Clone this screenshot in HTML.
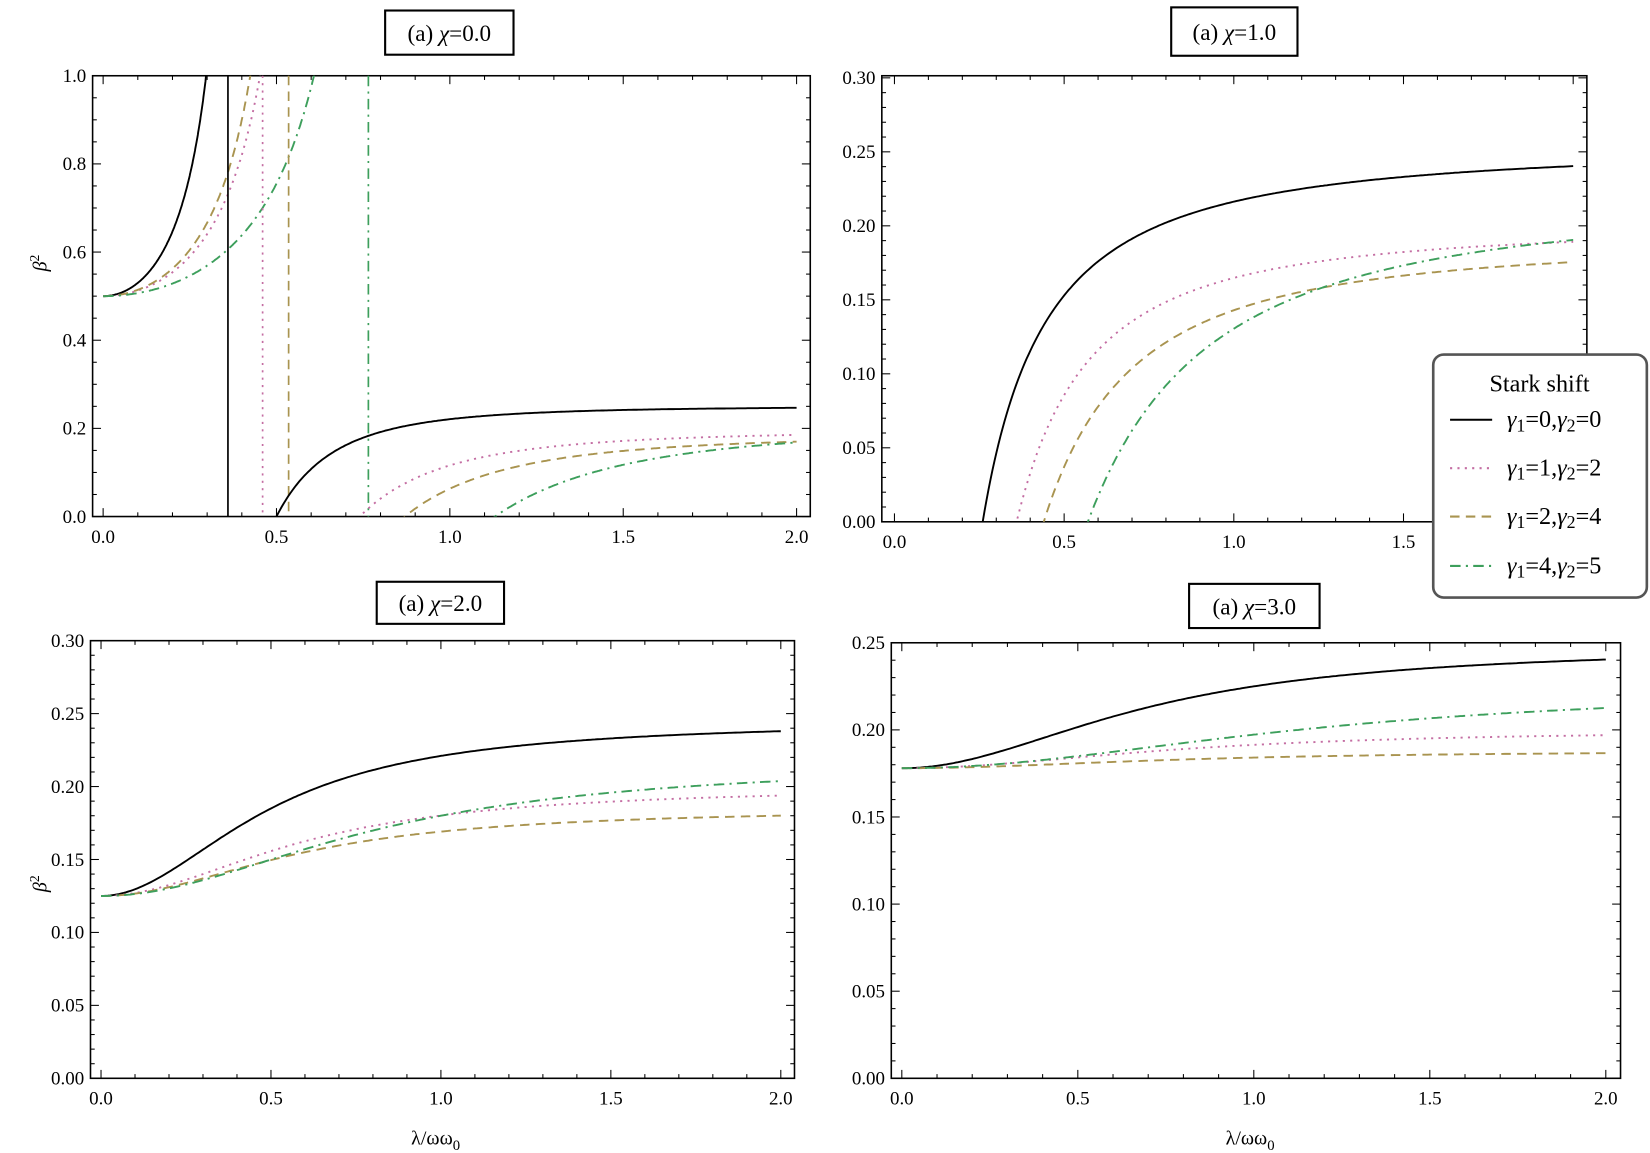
<!DOCTYPE html>
<html><head><meta charset="utf-8"><style>
html,body{margin:0;padding:0;background:#fff;}
svg{display:block;}
text{font-family:"Liberation Serif","DejaVu Serif",serif;}
</style></head><body>
<svg id="s" width="1650" height="1153" viewBox="0 0 1568 1096" preserveAspectRatio="none" xmlns="http://www.w3.org/2000/svg"></svg>
<script>
const S=document.getElementById('s');
let out='';
const C={k:'#000',p:'#c46ea3',o:'#a99450',g:'#3d9f5c'};
const DASH={k:'',p:'2 5',o:'9 6',g:'10 5 2 5'};
const panels=[
 {fx0:88,fx1:770,fy0:72,fy1:491,x0:98,x1:757,yb:491,yt:72,ymax:1,ymaj:0.2,ymin:0.05,dec:1},
 {fx0:838,fx1:1508,fy0:72,fy1:496,x0:850,x1:1495,yb:496,yt:74,ymax:0.3,ymaj:0.05,ymin:0.01,dec:2},
 {fx0:86,fx1:755,fy0:609,fy1:1025,x0:96,x1:742,yb:1025,yt:609,ymax:0.3,ymaj:0.05,ymin:0.01,dec:2},
 {fx0:847,fx1:1540,fy0:611,fy1:1025,x0:857,x1:1526,yb:1025,yt:611,ymax:0.25,ymaj:0.05,ymin:0.01,dec:2}
];
function X(P,x){return P.x0+(P.x1-P.x0)*x/2;}
function Y(P,y){return P.yb-(P.yb-P.yt)*y/P.ymax;}
panels.forEach((P,i)=>{
 out+=`<clipPath id="c${i}"><rect x="${P.fx0}" y="${P.fy0}" width="${P.fx1-P.fx0}" height="${P.fy1-P.fy0}"/></clipPath>`;
 out+=`<rect x="${P.fx0}" y="${P.fy0}" width="${P.fx1-P.fx0}" height="${P.fy1-P.fy0}" fill="none" stroke="#000" stroke-width="1.5"/>`;
 for(let k=0;k<=20;k++){const x=X(P,k/10);const maj=k%5==0;const L=maj?8:4;
  out+=`<line x1="${x}" y1="${P.fy1}" x2="${x}" y2="${P.fy1-L}" stroke="#000" stroke-width="1"/><line x1="${x}" y1="${P.fy0}" x2="${x}" y2="${P.fy0+L}" stroke="#000" stroke-width="1"/>`;
  if(maj) out+=`<text x="${x}" y="${P.fy1+25}" font-size="18" text-anchor="middle">${(k/10).toFixed(1)}</text>`;}
 const n=Math.round(P.ymax/P.ymin);const r=Math.round(P.ymaj/P.ymin);
 for(let k=0;k<=n;k++){const y=Y(P,k*P.ymin);const maj=k%r==0;const L=maj?8:4;
  out+=`<line x1="${P.fx0}" y1="${y}" x2="${P.fx0+L}" y2="${y}" stroke="#000" stroke-width="1"/><line x1="${P.fx1}" y1="${y}" x2="${P.fx1-L}" y2="${y}" stroke="#000" stroke-width="1"/>`;
  if(maj) out+=`<text x="${P.fx0-6}" y="${y+6}" font-size="18" text-anchor="end">${(k*P.ymin).toFixed(P.dec)}</text>`;}
});
function path(P,i,f,a,b,col){let d='';const N=300;for(let j=0;j<=N;j++){const x=a+(b-a)*j/N;let y=f(x);if(!isFinite(y))continue;y=Math.max(-0.2,Math.min(P.ymax*1.5,y));d+=(d?'L':'M')+X(P,x).toFixed(1)+' '+Y(P,y).toFixed(1);}
 out+=`<path d="${d}" fill="none" stroke="${C[col]}" stroke-width="1.8" stroke-dasharray="${DASH[col]}" clip-path="url(#c${i})"/>`;}
function vline(P,i,x,col){out+=`<line x1="${X(P,x)}" y1="${P.fy0}" x2="${X(P,x)}" y2="${P.fy1}" stroke="${C[col]}" stroke-width="1.6" stroke-dasharray="${DASH[col]}"/>`;}
{const P=panels[0];
 const L=[['k',0.42,0.35],['p',0.64,0.46],['o',0.6,0.44],['g',0.86,0.62]];
 L.forEach(([c,a,e])=>path(P,0,x=>0.5/(1-(x/a)**2),0,e,c));
 vline(P,0,0.36,'k');vline(P,0,0.46,'p');vline(P,0,0.535,'o');vline(P,0,0.765,'g');
 const R=[['k',0.5,0.25,3.1],['p',0.74,0.195,3],['o',0.87,0.185,3],['g',1.13,0.205,3]];
 R.forEach(([c,x0,Lm,k])=>path(P,0,x=>Lm*(1-(x0/x)**k),x0-0.02,2,c));}
{const P=panels[1];
 const R=[['k',0.26,0.255,1.4],['p',0.36,0.2,1.7],['o',0.44,0.19,1.7],['g',0.57,0.22,1.6]];
 R.forEach(([c,x0,Lm,k])=>path(P,1,x=>Lm*(1-(x0/x)**k),x0-0.03,2,c));}
{const P=panels[2];
 const R=[['k',0.125,0.245,0.5],['p',0.125,0.2,0.6],['o',0.125,0.185,0.6],['g',0.125,0.217,0.82]];
 R.forEach(([c,y0,Lm,s])=>path(P,2,x=>y0+(Lm-y0)*x*x/(x*x+s*s),0,2,c));}
{const P=panels[3];
 const R=[['k',0.178,0.248,0.7],['p',0.178,0.2,0.8],['o',0.178,0.188,0.8],['g',0.178,0.225,1.2]];
 R.forEach(([c,y0,Lm,s])=>path(P,3,x=>y0+(Lm-y0)*x*x/(x*x+s*s),0,2,c));}
[[366,10,122,42,'0.0'],[1113,7,120,46,'1.0'],[358,553,121,40,'2.0'],[1130,555,124,42,'3.0']].forEach(([x,y,w,h,v])=>{
 out+=`<rect x="${x}" y="${y}" width="${w}" height="${h}" fill="#fff" stroke="#000" stroke-width="2"/>`;
 out+=`<text x="${x+w/2}" y="${y+h/2+8}" font-size="22" text-anchor="middle">(a) <tspan font-style="italic">χ</tspan>=${v}</text>`;});
out+=`<text transform="translate(44,250) rotate(-90)" font-size="19" font-style="italic" text-anchor="middle">β<tspan dy="-7" font-size="13" font-style="normal">2</tspan></text>`;
out+=`<text transform="translate(44,840) rotate(-90)" font-size="19" font-style="italic" text-anchor="middle">β<tspan dy="-7" font-size="13" font-style="normal">2</tspan></text>`;
[414,1188].forEach(x=>out+=`<text x="${x}" y="1088" font-size="19" text-anchor="middle">λ/ωω<tspan dy="5" font-size="14">0</tspan></text>`);
out+=`<rect x="1362" y="337" width="203" height="231" rx="10" fill="#fff" stroke="#555" stroke-width="2.5"/>`;
out+=`<text x="1463" y="372" font-size="23" text-anchor="middle">Stark shift</text>`;
[['k','0','0',406],['p','1','2',452],['o','2','4',498],['g','4','5',545]].forEach(([c,a,b,y])=>{
 out+=`<line x1="1378" y1="${y-7}" x2="1418" y2="${y-7}" stroke="${C[c]}" stroke-width="2" stroke-dasharray="${DASH[c]}"/>`;
 out+=`<text x="1432" y="${y}" font-size="23"><tspan font-style="italic">γ</tspan><tspan font-size="17" dy="4">1</tspan><tspan dy="-4">=${a},</tspan><tspan font-style="italic">γ</tspan><tspan font-size="17" dy="4">2</tspan><tspan dy="-4">=${b}</tspan></text>`;});
S.innerHTML=out;
</script>
</body></html>
